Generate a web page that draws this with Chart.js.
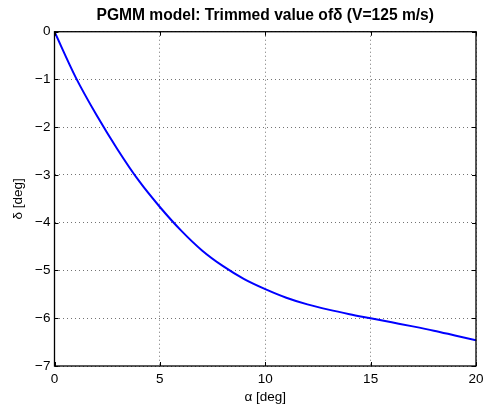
<!DOCTYPE html>
<html><head><meta charset="utf-8">
<script src="https://cdn.jsdelivr.net/npm/chart.js@4/dist/chart.umd.min.js"></script>
<style>html,body{margin:0;padding:0;background:#fff}#wrap{width:483px;height:407px}</style>
</head><body><div id="wrap"><canvas id="c" width="483" height="407"></canvas></div>
<script>
const alpha = [0,1,2,3,4,5,6,7,8,9,10,11,12,13,14,15,16,17,18,19,20];
const delta = [0,-0.95,-1.75,-2.47,-3.12,-3.67,-4.16,-4.58,-4.91,-5.18,-5.39,-5.57,-5.71,-5.82,-5.915,-6.0,-6.085,-6.17,-6.26,-6.36,-6.46];
const xTicks = [0,5,10,15,20];
const yTicks = [0,-1,-2,-3,-4,-5,-6,-7];
const titleText = 'PGMM model: Trimmed value of\u03b4 (V=125 m/s)';
const xLabel = '\u03b1 [deg]';
const yLabel = '\u03b4 [deg]';

const FONT = 'Liberation Sans, Arial, Helvetica, sans-serif';
const fmt = v => String(v).replace('-', '\u2212');

const inwardTicks = {
  id: 'inwardTicks',
  afterLayout(chart) {
    const t = chart.titleBlock, a = chart.chartArea;
    if (t) { t.left = a.left; t.right = a.right; t.width = a.right - a.left; }
  },
  afterDatasetsDraw(chart) {
    const {ctx, chartArea: a, scales: {x, y}} = chart;
    ctx.save();
    ctx.strokeStyle = '#000';
    ctx.lineWidth = 1;
    ctx.beginPath();
    xTicks.forEach(v => {
      const px = Math.round(x.getPixelForValue(v)) + 0.5;
      ctx.moveTo(px, a.bottom); ctx.lineTo(px, a.bottom - 4);
      ctx.moveTo(px, a.top); ctx.lineTo(px, a.top + 4);
    });
    yTicks.forEach(v => {
      const py = Math.round(y.getPixelForValue(v)) + 0.5;
      ctx.moveTo(a.left, py); ctx.lineTo(a.left + 4, py);
      ctx.moveTo(a.right, py); ctx.lineTo(a.right - 4, py);
    });
    ctx.stroke();
    ctx.lineWidth = 1.3;
    ctx.strokeRect(a.left, a.top, a.right - a.left, a.bottom - a.top);
    ctx.restore();
  }
};

new Chart(document.getElementById('c'), {
  type: 'scatter',
  data: { datasets: [{
    data: alpha.map((a, i) => ({x: a, y: delta[i]})),
    showLine: true, borderColor: '#0000ff', borderWidth: 2, pointRadius: 0,
    cubicInterpolationMode: 'monotone', fill: false
  }]},
  options: {
    responsive: false, animation: false, devicePixelRatio: 1,
    layout: { padding: { left: 10, right: 7, top: 0, bottom: 0 } },
    plugins: {
      legend: { display: false }, tooltip: { enabled: false },
      title: { display: true, text: titleText, color: '#000',
        font: { family: FONT, size: 15.6, weight: 'bold' }, padding: { top: 6, bottom: 7 } }
    },
    scales: {
      x: {
        type: 'linear', min: 0, max: 20,
        afterBuildTicks: s => { s.ticks = xTicks.map(v => ({value: v})); },
        afterFit: s => { s.height = 41; s.paddingRight = 0; s.paddingLeft = 0; },
        ticks: { color: '#000', font: { family: FONT, size: 13.5 }, padding: 5, maxRotation: 0, callback: fmt },
        grid: { color: 'rgba(0,0,0,0.55)', lineWidth: 1, tickLength: 0, drawTicks: false },
        border: { display: false, dash: [1, 3] },
        title: { display: true, text: xLabel, color: '#000', font: { family: FONT, size: 13.5 }, padding: { top: 0, bottom: 2 } }
      },
      y: {
        type: 'linear', min: -7, max: 0,
        afterBuildTicks: s => { s.ticks = yTicks.map(v => ({value: v})); },
        afterFit: s => { s.width = 44.5; },
        ticks: { color: '#000', font: { family: FONT, size: 13.5 }, padding: 4, callback: fmt },
        grid: { color: 'rgba(0,0,0,0.55)', lineWidth: 1, drawTicks: false, tickLength: 0 },
        border: { display: false, dash: [1, 3] },
        title: { display: true, text: yLabel, color: '#000', font: { family: FONT, size: 13.5 }, padding: { top: 0, bottom: 6 } }
      }
    }
  },
  plugins: [inwardTicks]
});
</script></body></html>
